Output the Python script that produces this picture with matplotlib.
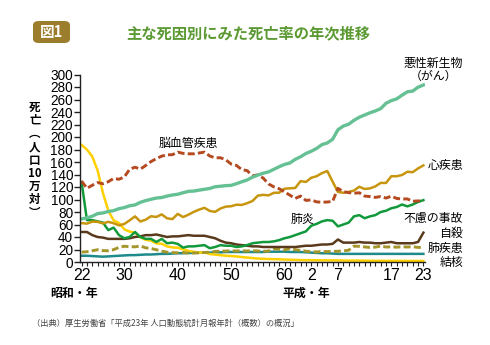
import matplotlib
matplotlib.use("Agg")
import matplotlib.pyplot as plt
from matplotlib.patches import FancyBboxPatch
from matplotlib.ticker import FixedLocator

plt.rcParams['font.family'] = ['Noto Sans CJK JP', 'DejaVu Sans']

years = list(range(1947, 2012))

cancer = [69.0, 70.6, 73.2, 77.4, 78.5, 80.9, 82.2, 85.3, 87.1, 90.0, 91.3, 95.5, 98.2,
          100.4, 102.3, 103.2, 105.5, 107.2, 108.4, 110.8, 113.0, 113.5, 115.0, 116.3,
          117.7, 120.4, 121.2, 122.2, 122.6, 125.3, 128.4, 131.3, 135.7, 139.1, 142.0,
          144.2, 148.3, 152.5, 156.1, 158.5, 164.2, 168.4, 173.6, 177.2, 181.7, 187.8,
          190.4, 196.4, 211.6, 217.5, 220.4, 226.7, 231.6, 235.2, 238.8, 241.7, 245.4,
          253.9, 258.3, 261.0, 266.9, 272.3, 273.5, 279.7, 283.2]

heart = [62.2, 61.4, 64.6, 64.2, 61.7, 64.3, 62.0, 58.6, 60.9, 66.7, 73.0, 64.8, 67.7,
         73.2, 72.1, 76.2, 69.9, 68.6, 77.0, 71.9, 75.7, 80.2, 83.8, 86.7, 81.7, 80.2,
         85.6, 88.6, 89.2, 91.7, 91.3, 94.1, 97.6, 106.2, 107.4, 106.6, 110.7, 110.9,
         117.3, 117.9, 118.4, 129.4, 128.1, 134.8, 137.2, 142.2, 145.6, 128.6, 112.0,
         110.8, 112.2, 114.3, 120.4, 116.8, 117.8, 121.0, 126.5, 126.5, 137.2, 137.2,
         139.2, 144.4, 143.7, 149.8, 154.5]

cerebro = [129.4, 117.9, 122.8, 127.1, 125.2, 128.5, 133.7, 132.4, 136.1, 148.4, 151.7,
           148.6, 154.4, 160.7, 165.4, 169.4, 171.4, 171.7, 175.8, 173.8, 173.1, 173.1,
           174.4, 175.8, 169.6, 166.7, 166.8, 163.5, 156.7, 154.5, 147.7, 146.2, 137.7,
           139.5, 134.3, 125.0, 120.2, 117.2, 112.2, 106.9, 101.7, 105.5, 98.5, 99.4,
           96.2, 95.6, 96.0, 96.9, 117.9, 112.6, 111.0, 110.0, 110.8, 105.5, 104.7,
           103.4, 104.7, 102.3, 105.3, 101.7, 100.8, 100.9, 97.2, 97.7, 98.2]

pneumonia = [128, 67, 67, 65, 63, 51, 55, 43, 38, 40, 48, 40, 37, 37, 32, 37, 30, 31, 29,
             23, 25, 25, 26, 27, 22, 24, 27, 26, 26, 24, 25, 27, 30, 31, 32, 32, 33, 35,
             38, 40, 43, 46, 49, 58, 61, 65, 67, 66, 57, 60, 63, 73, 75, 70, 73, 75, 80,
             82, 86, 88, 92, 89, 92, 96, 99]

accident = [48, 48, 43, 40, 39, 37, 37, 37, 37, 38, 40, 41, 43, 43, 44, 42, 40, 41, 41,
            42, 43, 42, 42, 42, 40, 38, 34, 31, 30, 28, 27, 26, 25, 25, 24, 24, 24, 24,
            24, 24, 24, 25, 26, 26, 27, 28, 28, 29, 36, 31, 31, 31, 32, 31, 31, 30, 30,
            31, 32, 30, 30, 30, 30, 32, 47]

suicide = [15.7, 16.5, 18.0, 19.6, 18.2, 18.0, 19.8, 23.4, 25.2, 24.5, 24.3, 25.7, 22.7,
           21.6, 19.6, 17.3, 15.7, 15.1, 14.7, 15.2, 14.2, 14.5, 14.5, 15.3, 15.6, 17.0,
           17.4, 17.5, 18.0, 17.6, 17.9, 17.6, 18.0, 17.7, 17.1, 17.5, 21.0, 20.4, 19.4,
           21.2, 19.6, 18.7, 17.3, 16.4, 16.1, 16.9, 16.6, 16.9, 17.2, 17.8, 18.8, 25.4,
           25.0, 24.1, 23.3, 23.8, 25.5, 24.0, 24.2, 23.7, 24.4, 24.0, 24.4, 23.4, 22.9]

liver = [10, 10, 9.5, 9, 8.5, 9, 9.5, 10, 10.5, 11, 11, 11.5, 12, 12, 12.5, 13, 13, 13.5,
         14, 14, 14.5, 14.5, 15, 15, 15, 15.5, 15.5, 16, 16, 16, 16, 16, 16, 16, 16, 16.5,
         16.5, 16.5, 16.5, 16, 16, 16, 15.5, 15, 14.5, 14, 14, 13.5, 13, 13, 13, 13, 13,
         13, 13, 13, 13, 13, 13, 13, 13, 13, 13, 13, 13]

tb = [187.2, 179.9, 168.8, 146.4, 110.3, 82.2, 66.5, 62.4, 52.3, 48.6, 46.9, 39.5, 35.5,
      34.2, 29.6, 29.3, 24.9, 23.3, 22.8, 20.3, 17.8, 16.2, 15.1, 15.4, 12.7, 11.9, 10.9,
      10.0, 9.5, 8.9, 7.9, 7.1, 6.3, 5.5, 5.1, 4.8, 4.5, 4.4, 3.9, 3.7, 3.4, 3.1, 2.9,
      3.0, 2.7, 2.7, 2.6, 2.6, 2.6, 2.3, 2.2, 2.2, 2.3, 2.1, 2.0, 1.8, 1.9, 1.8, 1.8, 1.8,
      1.7, 1.7, 1.7, 1.7, 1.7]

xtick_years = [1947, 1955, 1965, 1975, 1985, 1990, 1995, 2005, 2011]
xtick_labels = ['22', '30', '40', '50', '60', '2', '7', '17', '23']
ytick_values = list(range(0, 301, 20))

W, H = 490, 345
fig = plt.figure(figsize=(W / 100, H / 100), dpi=100)
fig.patch.set_facecolor('white')

def fx(px):
    return px / W

def fy(py):
    return 1 - py / H

ax = fig.add_axes([fx(80), fy(262), fx(425) - fx(80), fy(74.5) - fy(262)])
ax.set_xlim(1946.7, 2011.3)
ax.set_ylim(0, 300)

lw = 1.8
ax.plot(years, liver, color='#1e8a8c', lw=lw)
ax.plot(years, tb, color='#ffd000', lw=lw)
ax.plot(years, suicide, color='#a4962a', lw=2.1, dashes=(2.4, 1.1))
ax.plot(years, accident, color='#5a3a1c', lw=lw)
ax.plot(years, pneumonia, color='#12993c', lw=lw)
ax.plot(years, heart, color='#c8960e', lw=lw)
ax.plot(years, cerebro, color='#b5491f', lw=2.1, dashes=(2.4, 1.1))
ax.plot(years, cancer, color='#65c194', lw=2.4)

for s in ['top', 'right']:
    ax.spines[s].set_visible(False)
for s in ['left', 'bottom']:
    ax.spines[s].set_linewidth(1.0)
    ax.spines[s].set_color('#222222')

ax.set_yticks(ytick_values)
ax.set_yticklabels([str(v) for v in ytick_values], family=['Liberation Sans'],
                   fontsize=9.8)
ax.tick_params(axis='y', direction='out', length=4, width=1, pad=1, color='#222222')

ax.set_xticks(xtick_years)
ax.set_xticklabels(xtick_labels, family=['Liberation Sans'], fontsize=11.5)
ax.xaxis.set_minor_locator(FixedLocator(years))
ax.tick_params(axis='x', which='both', direction='out', length=3, width=0.8, pad=1,
               color='#222222')

cjk = ['Noto Sans CJK JP', 'DejaVu Sans']
lab_fs = 8.6
fig.text(fx(463), fy(63), '悪性新生物', ha='right', va='center', fontsize=lab_fs, family=cjk)
fig.text(fx(433), fy(76), '（がん）', ha='center', va='center', fontsize=lab_fs, family=cjk)
fig.text(fx(463), fy(165), '心疾患', ha='right', va='center', fontsize=lab_fs, family=cjk)
fig.text(fx(188), fy(143), '脳血管疾患', ha='center', va='center', fontsize=lab_fs, family=cjk)
fig.text(fx(303), fy(219), '肺炎', ha='center', va='center', fontsize=lab_fs, family=cjk)
fig.text(fx(463), fy(218), '不慮の事故', ha='right', va='center', fontsize=lab_fs, family=cjk)
fig.text(fx(463), fy(233), '自殺', ha='right', va='center', fontsize=lab_fs, family=cjk)
fig.text(fx(463), fy(248), '肺疾患', ha='right', va='center', fontsize=lab_fs, family=cjk)
fig.text(fx(463), fy(262), '結核', ha='right', va='center', fontsize=lab_fs, family=cjk)

fig.text(fx(35), fy(160), '死\n亡\n︵\n人\n口\n10\n万\n対\n︶', ha='center', va='center',
         fontsize=8.3, fontweight='bold', family=cjk, linespacing=1.02)

fig.text(fx(74), fy(293), '昭和・年', ha='center', va='center', fontsize=8.6,
         fontweight='bold', family=cjk)
fig.text(fx(306), fy(293), '平成・年', ha='center', va='center', fontsize=8.6,
         fontweight='bold', family=cjk)

box = FancyBboxPatch((fx(33), fy(43)), fx(70) - fx(33), fy(21) - fy(43),
                     boxstyle='round,pad=0,rounding_size=0.012',
                     transform=fig.transFigure, facecolor='#9b7d2c', edgecolor='none')
fig.patches.append(box)
fig.text(fx(51.5), fy(32), '図1', ha='center', va='center', fontsize=10.5,
         fontweight='bold', color='white', family=cjk)
fig.text(fx(248), fy(33), '主な死因別にみた死亡率の年次推移', ha='center', va='center',
         fontsize=11, fontweight='bold', color='#5b9a32', family=cjk)

fig.text(fx(32), fy(323), '（出典）厚生労働省「平成23年 人口動態統計月報年計（概数）の概況」',
         ha='left', va='center', fontsize=5.95, color='#444444', family=cjk)

fig.savefig('out.png', dpi=100, facecolor='white')
